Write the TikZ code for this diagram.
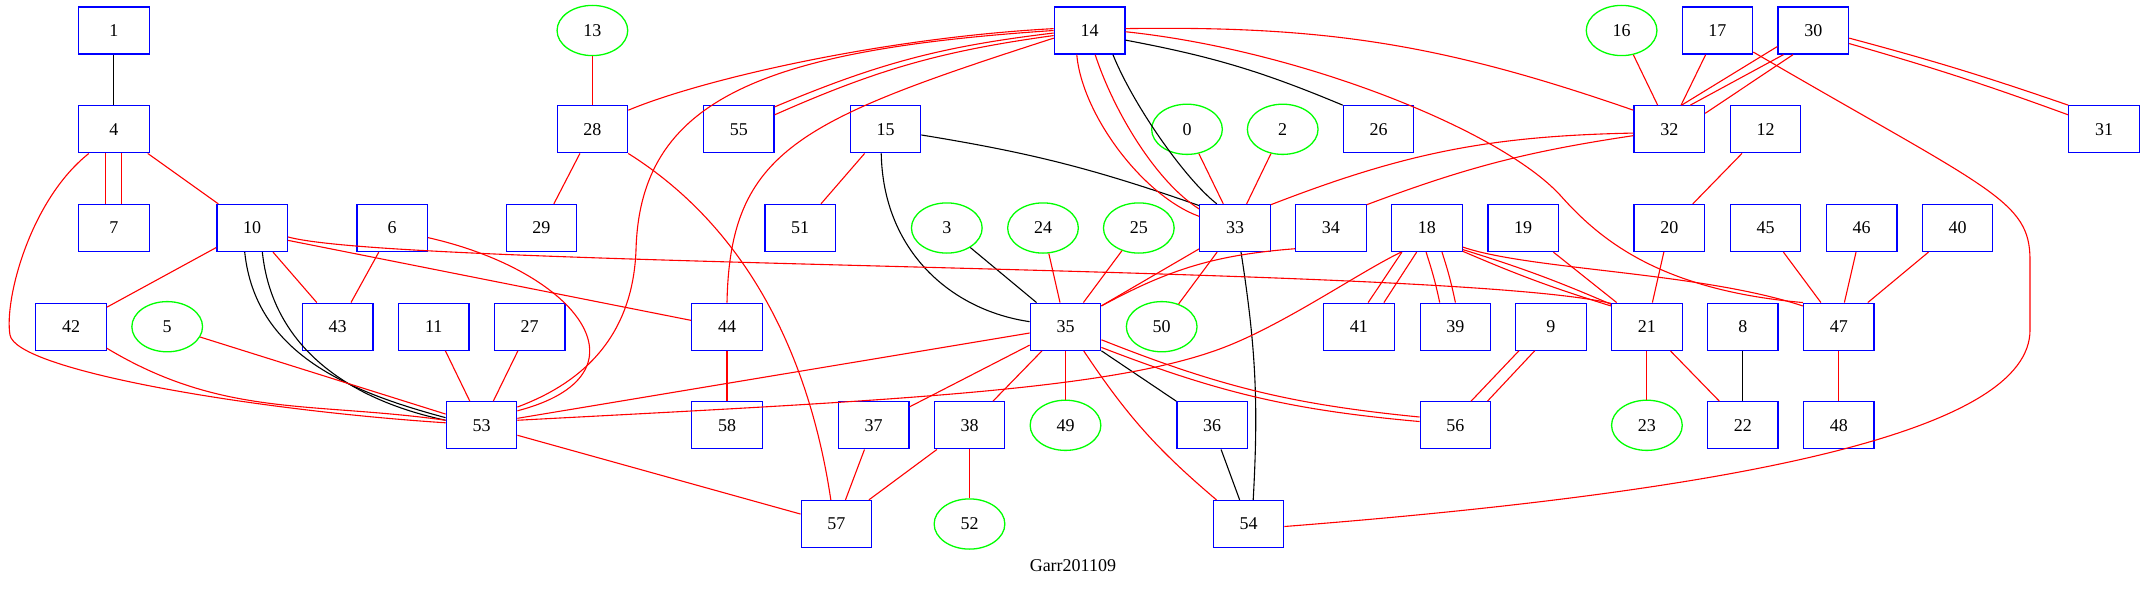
\documentclass[tikz,border=0pt]{standalone}
\usepackage{fontspec}
\setmainfont{Liberation Serif}
\usetikzlibrary{shapes.geometric}
\definecolor{gvblue}{RGB}{0,0,255}
\definecolor{gvgreen}{RGB}{0,255,0}
\definecolor{gvred}{RGB}{255,0,0}
\begin{document}
\begin{tikzpicture}[x=1pt,y=1pt,
  lbl/.style={font=\fontsize{18}{21}\selectfont},
  box/.style={lbl,draw=gvblue,line width=1.3pt,rectangle,minimum width=70.5pt,minimum height=47pt,inner sep=0pt},
  ell/.style={lbl,draw=gvgreen,line width=1.3pt,ellipse,minimum width=70.7pt,minimum height=50.2pt,inner sep=0pt},
  re/.style={draw=gvred,line width=1.1pt},
  bk/.style={draw=black,line width=1.1pt}]
\useasboundingbox (0,0) rectangle (2146,-591);
% row 1
\node[box] (n1) at (113.9,-30.5) {1};
\node[ell] (n13) at (592.4,-30.5) {13};
\node[box] (n14) at (1089.6,-30.5) {14};
\node[ell] (n16) at (1621.6,-30.5) {16};
\node[box] (n17) at (1717.4,-30.5) {17};
\node[box] (n30) at (1813.3,-30.5) {30};
% row 2
\node[box] (n4) at (113.9,-129.3) {4};
\node[box] (n28) at (592.4,-129.3) {28};
\node[box] (n55) at (738.8,-129.3) {55};
\node[box] (n15) at (885.5,-129.3) {15};
\node[ell] (n0) at (1187,-129.3) {0};
\node[ell] (n2) at (1282.7,-129.3) {2};
\node[box] (n26) at (1378.5,-129.3) {26};
\node[box] (n32) at (1669.3,-129.3) {32};
\node[box] (n12) at (1765.5,-129.3) {12};
\node[box] (n31) at (2104,-129.3) {31};
% row 3
\node[box] (n7) at (113.9,-228) {7};
\node[box] (n10) at (252.1,-228) {10};
\node[box] (n6) at (392.1,-228) {6};
\node[box] (n29) at (541.4,-228) {29};
\node[box] (n51) at (800.1,-228) {51};
\node[ell] (n3) at (946.8,-228) {3};
\node[ell] (n24) at (1043,-228) {24};
\node[ell] (n25) at (1138.8,-228) {25};
\node[box] (n33) at (1235,-228) {33};
\node[box] (n34) at (1330.9,-228) {34};
\node[box] (n18) at (1426.9,-228) {18};
\node[box] (n19) at (1523.1,-228) {19};
\node[box] (n20) at (1669.3,-228) {20};
\node[box] (n45) at (1765.5,-228) {45};
\node[box] (n46) at (1861.6,-228) {46};
\node[box] (n40) at (1957.5,-228) {40};
% row 4
\node[box] (n42) at (71,-326.7) {42};
\node[ell] (n5) at (167.2,-326.7) {5};
\node[box] (n43) at (337.7,-326.7) {43};
\node[box] (n11) at (433.7,-326.7) {11};
\node[box] (n27) at (529.7,-326.7) {27};
\node[box] (n44) at (727,-326.7) {44};
\node[box] (n35) at (1065.5,-326.7) {35};
\node[ell] (n50) at (1161.7,-326.7) {50};
\node[box] (n41) at (1358.9,-326.7) {41};
\node[box] (n39) at (1455.4,-326.7) {39};
\node[box] (n9) at (1550.9,-326.7) {9};
\node[box] (n21) at (1646.9,-326.7) {21};
\node[box] (n8) at (1742.8,-326.7) {8};
\node[box] (n47) at (1838.8,-326.7) {47};
% row 5
\node[box] (n53) at (481.5,-425.3) {53};
\node[box] (n58) at (727,-425.3) {58};
\node[box] (n37) at (873.6,-425.3) {37};
\node[box] (n38) at (969.5,-425.3) {38};
\node[ell] (n49) at (1065.5,-425.3) {49};
\node[box] (n36) at (1212.2,-425.3) {36};
\node[box] (n56) at (1455.4,-425.3) {56};
\node[ell] (n23) at (1646.9,-425.3) {23};
\node[box] (n22) at (1742.8,-425.3) {22};
\node[box] (n48) at (1838.8,-425.3) {48};
% row 6
\node[box] (n57) at (836.4,-524) {57};
\node[ell] (n52) at (969.5,-524) {52};
\node[box] (n54) at (1248.5,-524) {54};
\node[lbl] (title) at (1072.9,-565.3) {Garr201109};
% black edges
\draw[bk] (n1) -- (n4);
\draw[bk] (n14.-46) .. controls +(-68:55) and +(142:40) .. (n33.127);
\draw[bk] (n14.-15) to[bend left=6] (n26.146);
\draw[bk] (n15.-9) to[bend left=5] (n33.148);
\draw[bk] (n15.-100) .. controls (883,-250) and (950,-310) .. (n35.172);
\draw[bk] (n10.-107) to[out=-84,in=165] (n53.168);
\draw[bk] (n10.-67) to[out=-84,in=168] (n53.172);
\draw[bk] (n3) -- (n35);
\draw[bk] (n33.-76) to[bend left=6] (n54.79);
\draw[bk] (n35) -- (n36);
\draw[bk] (n36) -- (n54);
\draw[bk] (n8) -- (n22);
% red edges
\draw[re] (n13) -- (n28);
\draw[re] ([xshift=-8pt]n4.south) -- ([xshift=-8pt]n7.north);
\draw[re] ([xshift=8pt]n4.south) -- ([xshift=8pt]n7.north);
\draw[re] (n4) -- (n10);
\draw[re] (n4.224) .. controls (30,-200) and (4,-300) .. (10,-335) .. controls (16,-370) and (250,-410) .. (n53.176);
\draw[re] (n28) -- (n29);
\draw[re] (n14.177) .. controls (880,-38) and (700,-80) .. (n28.28);
\draw[re] (n28.-34) .. controls (750,-230) and (810,-360) .. (n57.103);
\draw[re] (n14.184) to[bend right=8] (n55.32);
\draw[re] (n14.188) to[bend right=8] (n55.22);
\draw[re] (n14.180) .. controls (760,-50) and (640,-100) .. (636,-250) .. controls (633,-330) and (590,-380) .. (n53.27);
\draw[re] (n14.192) .. controls (800,-120) and (730,-150) .. (n44.north);
\draw[re] (n14.-118) .. controls +(-85:60) and +(160:60) .. (n33.162);
\draw[re] (n14.-77) .. controls +(-72:60) and +(148:50) .. (n33.152);
\draw[re] (n14.3) to[bend left=10] (n32.152);
\draw[re] (n14.-2) .. controls (1300,-50) and (1500,-130) .. (1560,-195) .. controls (1600,-240) and (1660,-290) .. (n47.146);
\draw[re] (n0) -- (n33);
\draw[re] (n2) -- (n33);
\draw[re] (n15) -- (n51);
\draw[re] (n32.186) to[bend right=10] (n33.33);
\draw[re] (n32.190) to[bend right=6] (n34.33);
\draw[re] (n34.210) to[bend right=12] (n35.30);
\draw[re] (n33) -- (n35);
\draw[re] (n33) -- (n50);
\draw[re] (n24) -- (n35);
\draw[re] (n25) -- (n35);
\draw[re] (n16) -- (n32);
\draw[re] (n17) -- (n32);
\draw[re] (n30.204) -- (n32.63);
\draw[re] (n30.219) -- (n32.49);
\draw[re] (n30.230) -- (n32.24);
\draw[re] (n30.-12) to[bend left=2] (n31.146);
\draw[re] (n30.-20) to[bend left=2] (n31.158);
\draw[re] (n17.-31) .. controls (1990,-190) and (2030,-200) .. (2030,-260) -- (2030,-330) .. controls (2030,-430) and (1750,-490) .. (n54.-4);
\draw[re] (n12) -- (n20);
\draw[re] (n20) -- (n21);
\draw[re] (n19) -- (n21);
\draw[re] (n10) -- (n42);
\draw[re] (n10) -- (n43);
\draw[re] (n10.-19) -- (n44.170);
\draw[re] (n10.-14) .. controls (400,-268) and (1450,-265) .. (n21.147);
\draw[re] (n6) -- (n43);
\draw[re] (n6.-15) .. controls (580,-272) and (655,-375) .. (n53.22);
\draw[re] (n42.-31) to[out=-31,in=172] (n53.172);
\draw[re] (n5) -- (n53);
\draw[re] (n11) -- (n53);
\draw[re] (n27) -- (n53);
\draw[re] (n53) -- (n57);
\draw[re] (n53.11) -- (n35.190);
\draw[re] (n53.8) .. controls (900,-400) and (1120,-390) .. (1230,-345) .. controls (1290,-320.5) and (1360,-272) .. (n18.223);
\draw[re] (n44) -- (n58);
\draw[re] (n35) -- (n37);
\draw[re] (n35) -- (n38);
\draw[re] (n35) -- (n49);
\draw[re] (n35.-53) to[bend right=8] (n54.143);
\draw[re] (n35.-20) to[bend right=8] (n56.167);
\draw[re] (n35.-30) to[bend right=8] (n56.174);
\draw[re] (n37) -- (n57);
\draw[re] (n38) -- (n57);
\draw[re] (n38) -- (n52);
\draw[re] (n18.224) -- (n41.69);
\draw[re] (n18.247) -- (n41.44);
\draw[re] (n18.-92) to[bend left=3] (n39.123);
\draw[re] (n18.-58) to[bend left=3] (n39.90);
\draw[re] (n18.-31) to[bend left=3] (n21.148);
\draw[re] (n18.-33) to[bend right=3] (n21.150);
\draw[re] (n18.-28) .. controls (1530,-270) and (1700,-272) .. (n47.150);
\draw[re] (n9.217) -- (n56.57);
\draw[re] (n9.236) -- (n56.37);
\draw[re] (n21) -- (n23);
\draw[re] (n21) -- (n22);
\draw[re] (n47) -- (n48);
\draw[re] (n45) -- (n47);
\draw[re] (n46) -- (n47);
\draw[re] (n40) -- (n47);
\end{tikzpicture}
\end{document}
